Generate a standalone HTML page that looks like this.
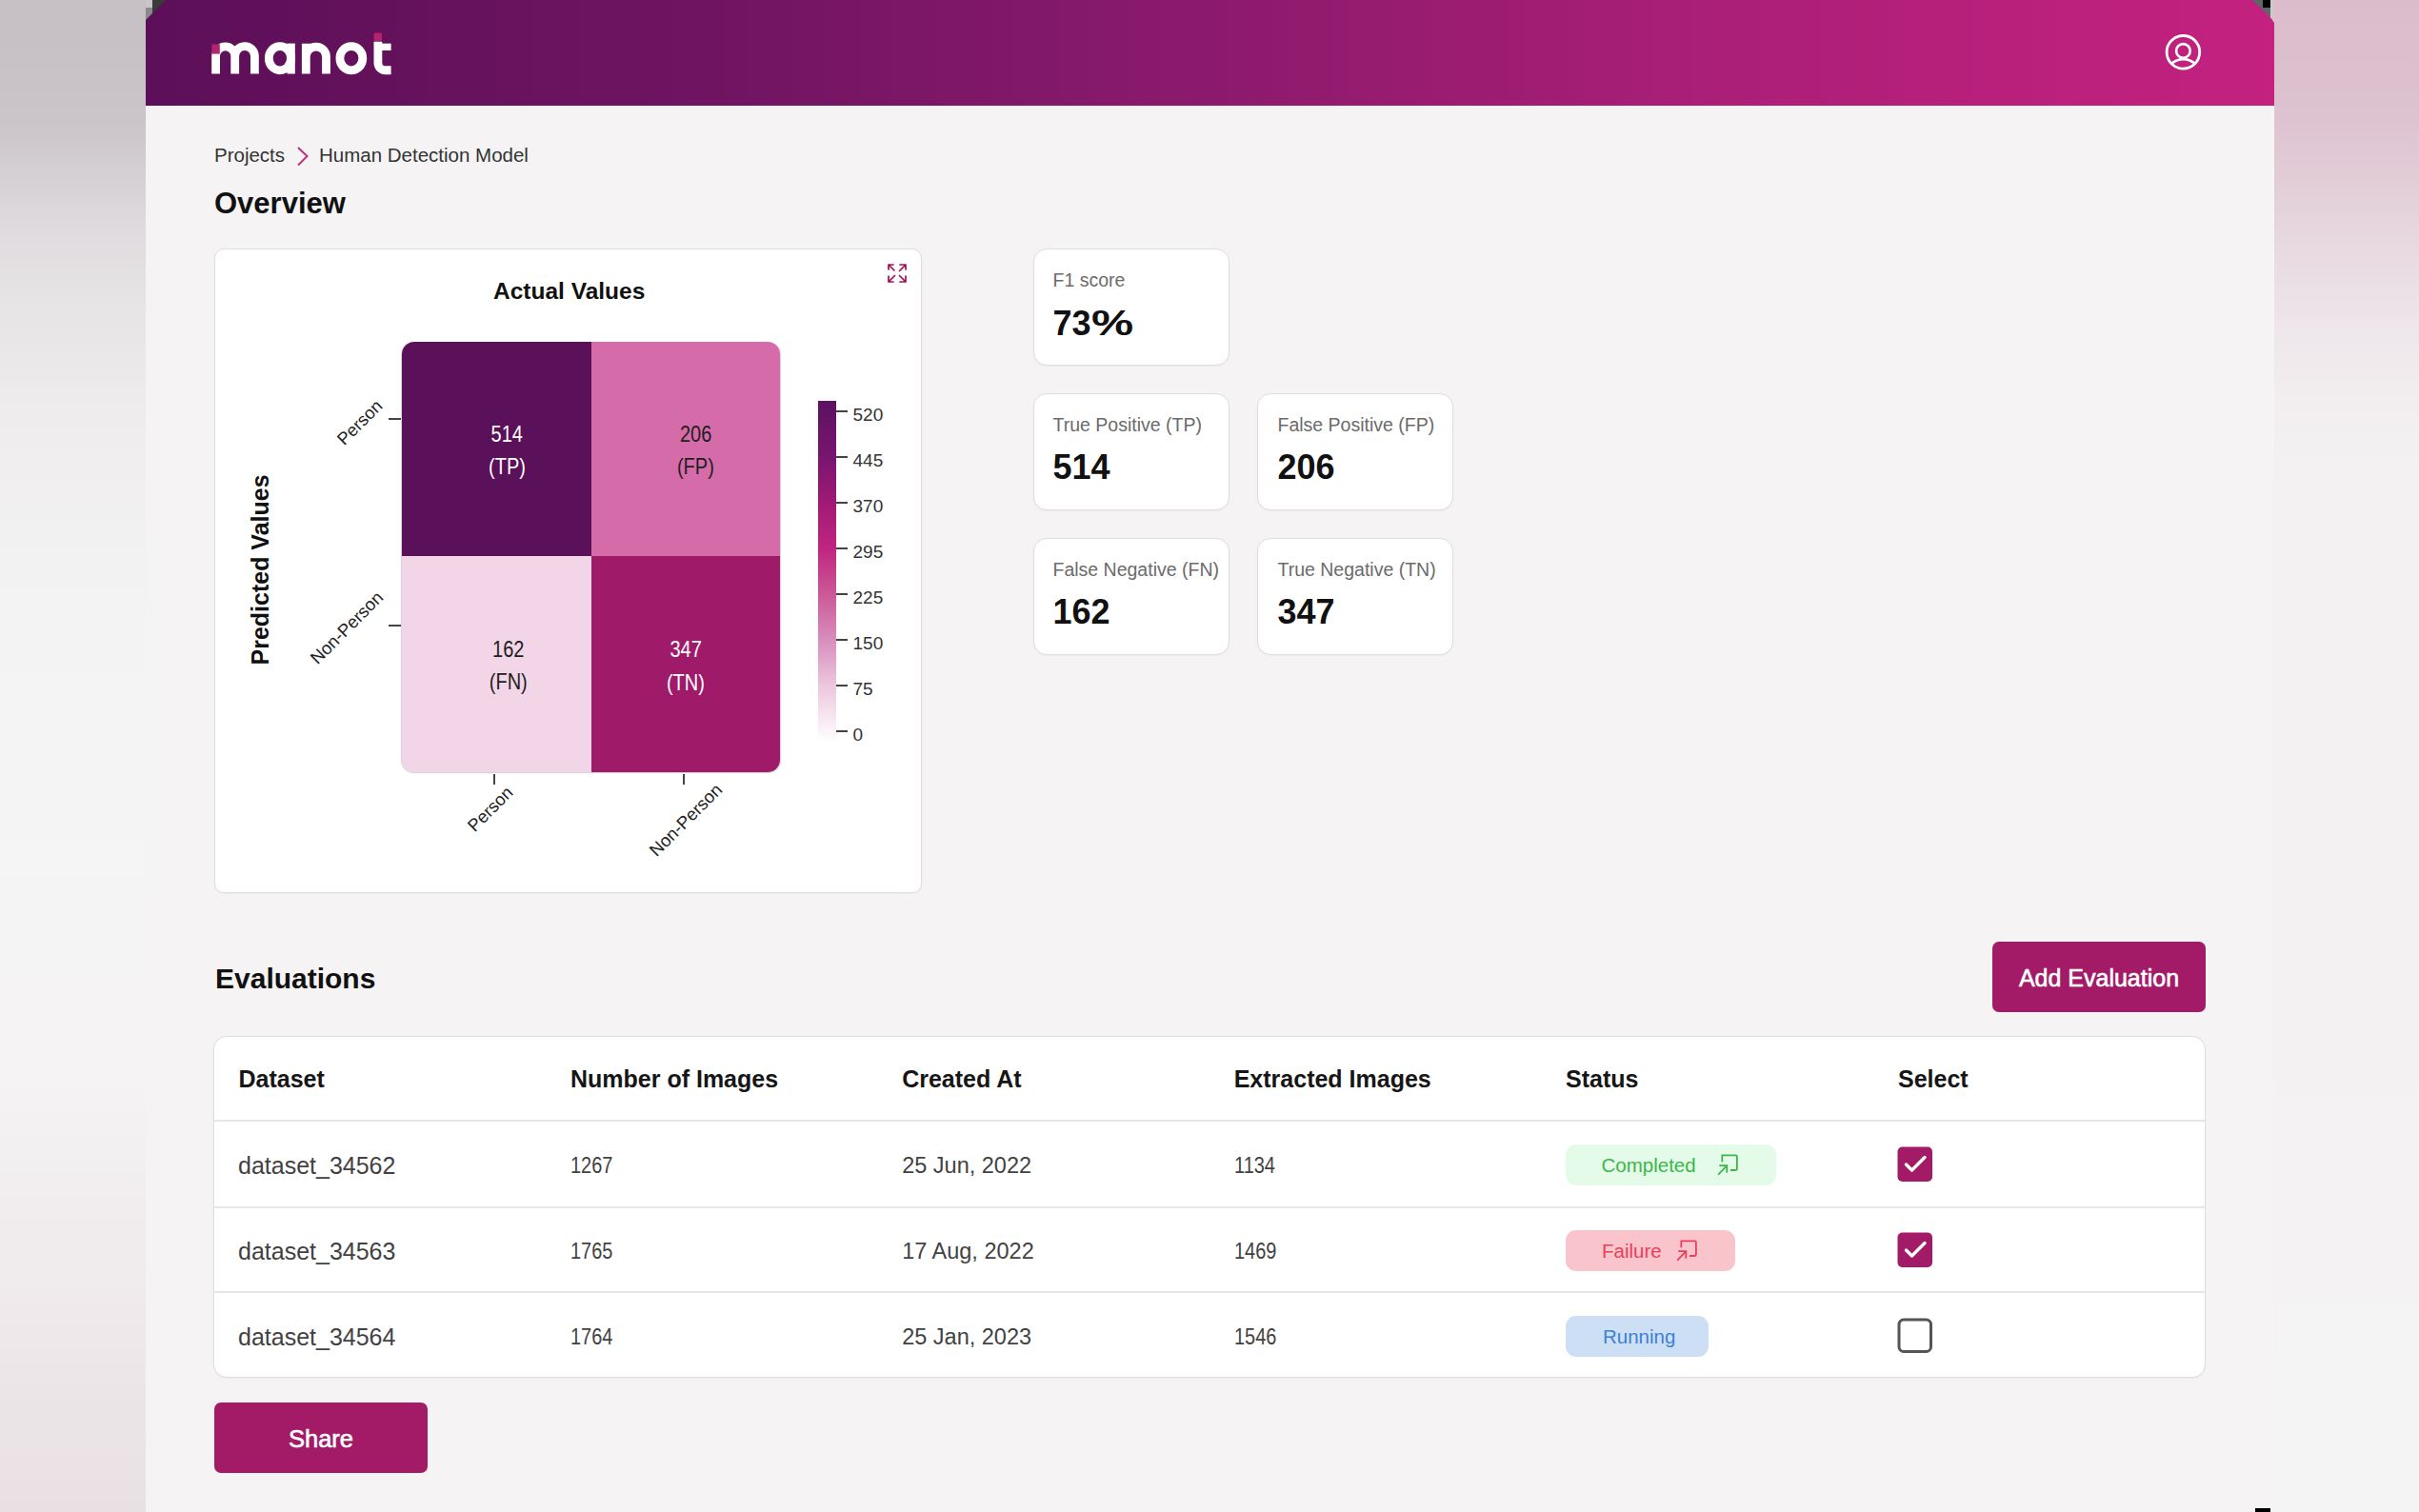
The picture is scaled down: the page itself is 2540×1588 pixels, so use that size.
<!DOCTYPE html>
<html>
<head>
<meta charset="utf-8">
<style>
html,body{margin:0;padding:0;}
body{width:2540px;height:1588px;position:relative;overflow:hidden;font-family:"Liberation Sans",sans-serif;background:#f5f3f4;}
.abs{position:absolute;}
.t{position:absolute;white-space:nowrap;line-height:1;}
#bgL{left:0;top:0;width:153px;height:1588px;background:linear-gradient(to bottom,#c6c0c4 0px,#cbc5c9 130px,#ddd9dc 230px,#e7e4e6 320px,#efedee 450px,#f3f2f2 600px,#f6f5f5 900px,#f4f2f3 1150px,#eee8ea 1400px,#e8e0e3 1588px);}
#bgR{left:2388px;top:0;width:152px;height:1588px;background:linear-gradient(to bottom,#dbbccb 0px,#ddc2cf 120px,#e6d6dd 240px,#eee6ea 340px,#f2eef0 420px,#f3f1f2 500px,#f3f1f2 1100px,#f5f4f4 1588px);}
#panel{left:153px;top:0;width:2235px;height:1588px;background:#f5f3f4;border-radius:0;overflow:hidden;}
#header{left:0;top:0;width:2235px;height:111px;background:linear-gradient(to right,#5c0f58 0%,#6e1460 25%,#8c1a6c 50%,#ac1f78 75%,#c42180 100%);}
.card{position:absolute;background:#fff;border:1px solid #dfdddf;box-sizing:border-box;box-shadow:0 1px 2px rgba(0,0,0,0.04);}
.lbl{color:#6b6b6b;font-size:19.5px;}
.val{color:#111;font-size:36px;font-weight:bold;}
.th{font-size:25px;font-weight:bold;color:#161616;}
.td{font-size:23.5px;color:#424242;}
.ds{font-size:25px;}
.num{transform:scaleX(0.85);transform-origin:0 0;}
.pill{position:absolute;height:43px;border-radius:11px;}
.btn{position:absolute;background:#a31b66;border-radius:7px;}
.tick{position:absolute;background:#444;}
.cb{color:#333;font-size:19px;}
.ct{width:100px;text-align:center;font-size:20px;transform:scaleY(1.235);transform-origin:0 16.93px;}
</style>
</head>
<body>
<div id="bgL" class="abs"></div>
<div id="bgR" class="abs"></div>
<!-- corner artifacts -->
<div class="abs" style="left:2368px;top:1584px;width:16px;height:4px;background:#000;z-index:5;"></div>

<div id="panel" class="abs">
  <div id="header" class="abs"></div>
</div>
<svg class="abs" style="left:153px;top:0" width="24" height="24" viewBox="0 0 24 24">
  <polygon points="0,0 21,0 0,21" fill="#3a3a3a"/>
  <rect x="0" y="0" width="7" height="8" fill="#c9c5c8"/>
  <rect x="0" y="8" width="7" height="13" fill="#8a8a8a"/>
  <polygon points="0,21 7,14 7,21" fill="#5c1058"/>
</svg>
<svg class="abs" style="left:2360px;top:0" width="28" height="26" viewBox="0 0 28 26">
  <polygon points="5,0 28,0 28,24 24,18" fill="#5d6862"/>
  <rect x="16" y="0" width="8" height="8" fill="#000"/>
  <polygon points="24,0 28,0 28,24 24,18" fill="#dbbfcb"/>
  <rect x="24" y="0" width="1.5" height="19" fill="#cdcdcd"/>
</svg>

<!-- logo -->
<svg class="abs" style="left:215px;top:28px" width="200" height="56" viewBox="215 28 200 56">
 <g fill="none" stroke="#fff" stroke-width="8.8">
  <path d="M226.6 77.5 V58.9 A10.05 10.05 0 0 1 246.7 58.9 V77.5 M246.7 58.9 A10.35 10.35 0 0 1 267.4 58.9 V77.5"/>
  <ellipse cx="293.9" cy="61.2" rx="11.6" ry="12.6"/>
  <path d="M321.3 77.5 V45.7 M321.3 59.7 A10.6 10.6 0 0 1 342.5 59.7 V77.5"/>
  <ellipse cx="368.85" cy="61.2" rx="11.95" ry="12.6"/>
  <path d="M396.9 43.8 V66 A7.5 7.5 0 0 0 404.4 73.75 H410.6"/>
 </g>
 <rect x="301.5" y="45.6" width="8.3" height="31.9" fill="#fff"/>
 <rect x="401" y="45.7" width="9.6" height="7.3" fill="#fff"/>
 <rect x="222.4" y="46.4" width="8.4" height="10.2" fill="#b4246e"/>
 <rect x="392.6" y="34.6" width="8.4" height="8.3" rx="1.5" fill="#b4246e"/>
</svg>

<!-- user icon -->
<svg class="abs" style="left:2270px;top:33px" width="44" height="44" viewBox="0 0 44 44">
  <circle cx="22.4" cy="21.8" r="17.3" fill="none" stroke="#fff" stroke-width="2.8"/>
  <circle cx="22.4" cy="20.4" r="7.3" fill="none" stroke="#fff" stroke-width="2.6"/>
  <path d="M9.8 33.7 Q22.4 24.5 35 33.7" fill="none" stroke="#fff" stroke-width="2.6"/>
</svg>

<!-- breadcrumb -->
<div class="t" style="left:225px;top:153.1px;font-size:20.5px;color:#333;">Projects</div>
<svg class="abs" style="left:310px;top:152px" width="16" height="24" viewBox="0 0 16 24">
  <path d="M3 3 L12.5 12 L3 21.5" fill="none" stroke="#c0307a" stroke-width="2"/>
</svg>
<div class="t" style="left:335px;top:153.1px;font-size:20.5px;color:#333;">Human Detection Model</div>

<!-- Overview -->
<div class="t" style="left:225px;top:197.8px;font-size:31px;font-weight:bold;color:#111;">Overview</div>

<!-- chart card -->
<div class="card" style="left:225px;top:261px;width:743px;height:677px;border-radius:10px;"></div>
<div class="t" style="left:518px;top:294.2px;font-size:24.5px;font-weight:bold;color:#111;">Actual Values</div>

<!-- expand icon -->
<svg class="abs" style="left:931px;top:276px" width="22" height="22" viewBox="0 0 22 22">
  <g fill="none" stroke="#a0105a" stroke-width="1.7" stroke-linecap="round" stroke-linejoin="round">
    <path d="M2 7 V2 H7 M2 2 L8 8"/>
    <path d="M14 2 H20 V7 M20 2 L13.5 8.5"/>
    <path d="M2 14 V20 H7 M2 20 L8.5 13.5"/>
    <path d="M14 20 H20 V14 M20 20 L13.5 13.5"/>
  </g>
</svg>

<!-- heatmap -->
<div class="abs" style="left:422px;top:359px;width:397px;height:452px;border-radius:13px;overflow:hidden;box-shadow:0 0.5px 1px 0.5px rgba(60,40,60,0.22);">
  <div class="abs" style="left:0;top:0;width:198.5px;height:225px;background:#5a1159;"></div>
  <div class="abs" style="left:198.5px;top:0;width:198.5px;height:225px;background:#d56ba8;"></div>
  <div class="abs" style="left:0;top:225px;width:198.5px;height:227px;background:#f2d5e6;"></div>
  <div class="abs" style="left:198.5px;top:225px;width:198.5px;height:227px;background:#a01a6a;"></div>
</div>
<div class="t ct" style="left:482.25px;top:446.87px;color:#fff;">514</div>
<div class="t ct" style="left:482.55px;top:480.77px;color:#fff;">(TP)</div>
<div class="t ct" style="left:680.7px;top:446.87px;color:#1e1e1e;">206</div>
<div class="t ct" style="left:680.4px;top:480.77px;color:#1e1e1e;">(FP)</div>
<div class="t ct" style="left:483.75px;top:673.07px;color:#1e1e1e;">162</div>
<div class="t ct" style="left:483.75px;top:706.97px;color:#1e1e1e;">(FN)</div>
<div class="t ct" style="left:670.2px;top:673.47px;color:#fff;">347</div>
<div class="t ct" style="left:669.9px;top:707.57px;color:#fff;">(TN)</div>

<!-- y ticks -->
<div class="tick" style="left:408px;top:439px;width:13px;height:2px;"></div>
<div class="tick" style="left:408px;top:656px;width:13px;height:2px;"></div>
<!-- x ticks -->
<div class="tick" style="left:518px;top:813px;width:2px;height:11px;"></div>
<div class="tick" style="left:717px;top:813px;width:2px;height:11px;"></div>

<!-- Predicted Values -->
<div class="t" style="left:173px;top:586px;width:200px;text-align:center;font-size:25px;font-weight:bold;color:#111;transform:rotate(-90deg);transform-origin:100px 12.5px;">Predicted Values</div>

<!-- row labels rotated -45 -->
<div class="t" style="left:350.5px;top:457.5px;font-size:18.3px;color:#222;transform:rotate(-45deg);transform-origin:0 0;">Person</div>
<div class="t" style="left:322.8px;top:688.25px;font-size:18.5px;color:#222;transform:rotate(-45deg);transform-origin:0 0;">Non-Person</div>
<!-- col labels -->
<div class="t" style="left:488px;top:863.5px;font-size:18.3px;color:#222;transform:rotate(-45deg);transform-origin:0 0;">Person</div>
<div class="t" style="left:678.9px;top:890px;font-size:18.5px;color:#222;transform:rotate(-45deg);transform-origin:0 0;">Non-Person</div>

<!-- colorbar -->
<div class="abs" style="left:859px;top:421px;width:19px;height:358px;background:linear-gradient(to bottom,#5c1260 0%,#7a1570 17%,#a01a75 30%,#c0247f 43%,#cc5a98 57%,#d88cbb 70%,#ecc5dc 83%,#ffffff 100%);"></div>
<div class="tick" style="left:878px;top:431px;width:12px;height:2px;"></div>
<div class="tick" style="left:878px;top:479px;width:12px;height:2px;"></div>
<div class="tick" style="left:878px;top:527px;width:12px;height:2px;"></div>
<div class="tick" style="left:878px;top:575px;width:12px;height:2px;"></div>
<div class="tick" style="left:878px;top:623px;width:12px;height:2px;"></div>
<div class="tick" style="left:878px;top:671px;width:12px;height:2px;"></div>
<div class="tick" style="left:878px;top:719px;width:12px;height:2px;"></div>
<div class="tick" style="left:878px;top:767px;width:12px;height:2px;"></div>
<div class="t cb" style="left:895.5px;top:425.6px;">520</div>
<div class="t cb" style="left:895.5px;top:473.7px;">445</div>
<div class="t cb" style="left:895.5px;top:521.8px;">370</div>
<div class="t cb" style="left:895.5px;top:569.9px;">295</div>
<div class="t cb" style="left:895.5px;top:618px;">225</div>
<div class="t cb" style="left:895.5px;top:666.1px;">150</div>
<div class="t cb" style="left:895.5px;top:714.2px;">75</div>
<div class="t cb" style="left:895.5px;top:762.3px;">0</div>

<!-- stat cards -->
<div class="card" style="left:1085px;top:261px;width:206px;height:123px;border-radius:14px;"></div>
<div class="t lbl" style="left:1105.5px;top:284.7px;">F1 score</div>
<div class="t val" style="left:1105.5px;top:321.5px;">73<span style="display:inline-block;transform:scaleX(1.38);transform-origin:0 0;margin-left:0px;">%</span></div>

<div class="card" style="left:1085px;top:413px;width:206px;height:123px;border-radius:14px;"></div>
<div class="t lbl" style="left:1105.5px;top:436.8px;">True Positive (TP)</div>
<div class="t val" style="left:1105.5px;top:473.1px;">514</div>
<div class="card" style="left:1320px;top:413px;width:206px;height:123px;border-radius:14px;"></div>
<div class="t lbl" style="left:1341.5px;top:436.8px;">False Positive (FP)</div>
<div class="t val" style="left:1341.5px;top:473.1px;">206</div>

<div class="card" style="left:1085px;top:565px;width:206px;height:123px;border-radius:14px;"></div>
<div class="t lbl" style="left:1105.5px;top:588.8px;">False Negative (FN)</div>
<div class="t val" style="left:1105.5px;top:625.1px;">162</div>
<div class="card" style="left:1320px;top:565px;width:206px;height:123px;border-radius:14px;"></div>
<div class="t lbl" style="left:1341.5px;top:588.8px;">True Negative (TN)</div>
<div class="t val" style="left:1341.5px;top:625.1px;">347</div>

<!-- Evaluations -->
<div class="t" style="left:226px;top:1013.3px;font-size:30px;font-weight:bold;color:#111;">Evaluations</div>
<div class="btn" style="left:2092px;top:989px;width:224px;height:74px;"></div>
<div class="t" style="left:2092px;top:1014.6px;width:224px;text-align:center;font-size:25px;color:#fff;-webkit-text-stroke:0.6px #fff;">Add Evaluation</div>

<!-- table -->
<div class="card" style="left:224px;top:1088px;width:2092px;height:359px;border-radius:14px;"></div>
<div class="abs" style="left:225px;top:1176px;width:2090px;height:2px;background:#e6e6e6;"></div>
<div class="abs" style="left:225px;top:1266.5px;width:2090px;height:2px;background:#e6e6e6;"></div>
<div class="abs" style="left:225px;top:1356px;width:2090px;height:2px;background:#e6e6e6;"></div>

<div class="t th" style="left:250.5px;top:1121.3px;">Dataset</div>
<div class="t th" style="left:599px;top:1121.3px;">Number of Images</div>
<div class="t th" style="left:947.2px;top:1121.3px;">Created At</div>
<div class="t th" style="left:1295.7px;top:1121.3px;">Extracted Images</div>
<div class="t th" style="left:1644px;top:1121.3px;">Status</div>
<div class="t th" style="left:1993px;top:1121.3px;">Select</div>

<div class="t td ds" style="left:250px;top:1211.8px;">dataset_34562</div>
<div class="t td num" style="left:599px;top:1212.6px;">1267</div>
<div class="t td" style="left:947.2px;top:1212.6px;">25 Jun, 2022</div>
<div class="t td num" style="left:1295.7px;top:1212.6px;">1134</div>

<div class="t td ds" style="left:250px;top:1301.8px;">dataset_34563</div>
<div class="t td num" style="left:599px;top:1302.6px;">1765</div>
<div class="t td" style="left:947.2px;top:1302.6px;">17 Aug, 2022</div>
<div class="t td num" style="left:1295.7px;top:1302.6px;">1469</div>

<div class="t td ds" style="left:250px;top:1391.8px;">dataset_34564</div>
<div class="t td num" style="left:599px;top:1392.6px;">1764</div>
<div class="t td" style="left:947.2px;top:1392.6px;">25 Jan, 2023</div>
<div class="t td num" style="left:1295.7px;top:1392.6px;">1546</div>

<!-- pills -->
<div class="pill" style="left:1644px;top:1202px;width:221px;background:#e5fbe9;"></div>
<div class="t" style="left:1681.5px;top:1213.8px;font-size:20.5px;color:#3cb64a;">Completed</div>
<svg class="abs" style="left:1798px;top:1205px" width="34" height="34" viewBox="0 0 34 34">
  <g fill="none" stroke="#3cb64a" stroke-width="1.8" stroke-linecap="round">
    <path d="M10.3 14.6 V8.3 H24.4 Q25.9 8.3 25.9 9.8 V22.5 Q25.9 24 24.4 24 H19.6"/>
    <path d="M6.7 28.1 L14.6 19.8"/>
    <path d="M7.9 19.1 H15.3 V25.9"/>
  </g>
</svg>

<div class="pill" style="left:1644px;top:1292px;width:178px;background:#f9c4cb;"></div>
<div class="t" style="left:1682px;top:1303.8px;font-size:20.5px;color:#e8405a;">Failure</div>
<svg class="abs" style="left:1754.6px;top:1294.8px" width="34" height="34" viewBox="0 0 34 34">
  <g fill="none" stroke="#e8405a" stroke-width="1.8" stroke-linecap="round">
    <path d="M10.3 14.6 V8.3 H24.4 Q25.9 8.3 25.9 9.8 V22.5 Q25.9 24 24.4 24 H19.6"/>
    <path d="M6.7 28.1 L14.6 19.8"/>
    <path d="M7.9 19.1 H15.3 V25.9"/>
  </g>
</svg>

<div class="pill" style="left:1644px;top:1381.5px;width:150px;background:#cddff4;"></div>
<div class="t" style="left:1683px;top:1393.5px;font-size:20.5px;color:#3d7fd6;">Running</div>

<!-- checkboxes -->
<svg class="abs" style="left:1992px;top:1204px" width="38" height="38" viewBox="0 0 38 38">
  <rect x="0.5" y="0.5" width="36.5" height="36.5" rx="5" fill="#a31b66"/>
  <path d="M9.5 19 L15.5 25 L29 11.5" fill="none" stroke="#fff" stroke-width="3.4" stroke-linecap="round" stroke-linejoin="round"/>
</svg>
<svg class="abs" style="left:1992px;top:1294px" width="38" height="38" viewBox="0 0 38 38">
  <rect x="0.5" y="0.5" width="36.5" height="36.5" rx="5" fill="#a31b66"/>
  <path d="M9.5 19 L15.5 25 L29 11.5" fill="none" stroke="#fff" stroke-width="3.4" stroke-linecap="round" stroke-linejoin="round"/>
</svg>
<svg class="abs" style="left:1992px;top:1384px" width="38" height="38" viewBox="0 0 38 38">
  <rect x="2" y="2" width="33.5" height="33.5" rx="5" fill="#fff" stroke="#555" stroke-width="3"/>
</svg>

<!-- share -->
<div class="btn" style="left:225px;top:1473px;width:224px;height:74px;"></div>
<div class="t" style="left:225px;top:1498.6px;width:224px;text-align:center;font-size:25.5px;color:#fff;-webkit-text-stroke:0.6px #fff;">Share</div>

</body>
</html>
